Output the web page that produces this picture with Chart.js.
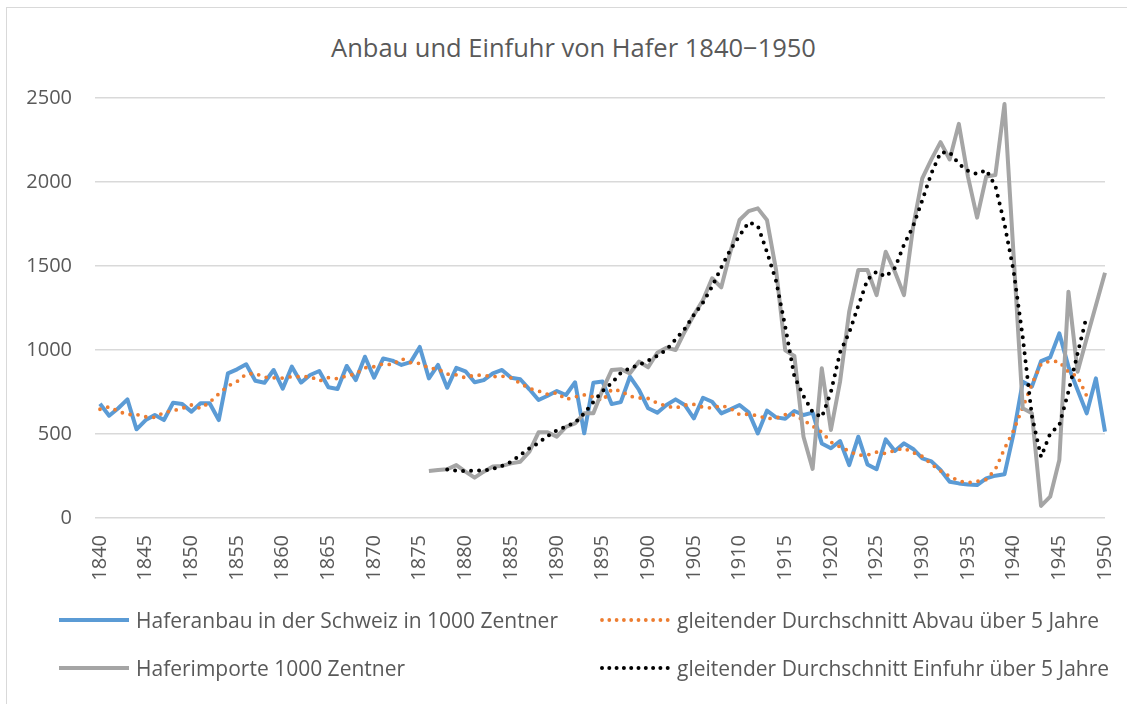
<!DOCTYPE html>
<html lang="de">
<head>
<meta charset="UTF-8">
<title>Anbau und Einfuhr von Hafer 1840−1950</title>
<script src="https://cdn.jsdelivr.net/npm/chart.js"></script>
<style>
  body { margin: 0; background: #fff; font-family: 'Open Sans', sans-serif; }
  #wrap { position: relative; width: 1127px; height: 704px; overflow: hidden; }
  #rahmen { position: absolute; left: 6px; top: 7px; width: 1200px; height: 800px; border: 1px solid #d9d9d9; }
  #box { position: absolute; left: 0; top: 0; width: 1127px; height: 704px; }
  #titel { position: absolute; left: 0; top: 32px; width: 1147px; text-align: center; color: #595959;
           font-size: 25.5px; line-height: 30px; white-space: nowrap; }
  .leg { position: absolute; display: flex; align-items: center; height: 30px; color: #595959; font-size: 21px; white-space: nowrap; }
  .leg svg { margin-right: 7px; }
</style>
</head>
<body>
<div id="wrap">
  <div id="rahmen"></div>
  <div id="titel"></div>
  <div id="box"><canvas id="chart"></canvas></div>
  <div id="legende"></div>
</div>
<script>
// Jahre 1840-1950 (Kategorien der x-Achse)
var jahre = [];
for (var j = 1840; j <= 1950; j++) jahre.push(j);

// Haferanbau in der Schweiz, 1000 Zentner, 1840-1950
var anbau = [
  680, 609, 653, 706, 528, 583, 613, 583, 686, 678,
  633, 683, 683, 583, 861, 885, 915, 817, 805, 881,
  770, 901, 806, 851, 875, 778, 768, 905, 821, 960,
  835, 950, 937, 911, 928, 1018, 831, 911, 775, 894,
  873, 808, 821, 861, 881, 835, 826, 766, 702, 728,
  756, 732, 808, 504, 805, 813, 678, 690, 841, 762,
  653, 627, 673, 706, 673, 593, 716, 692, 623, 647,
  673, 629, 504, 639, 599, 591, 637, 613, 627, 444,
  415, 458, 315, 484, 319, 290, 468, 399, 444, 411,
  355, 337, 286, 216, 206, 200, 196, 236, 252, 260,
  504, 811, 782, 934, 956, 1099, 901, 762, 623, 831,
  514
];

// Haferimporte, 1000 Zentner, erst ab 1876
var importStart = 1876;
var importe = [
  280, 286, 290, 315,
  276, 240, 276, 306, 310, 325, 335, 395, 510, 510,
  484, 543, 563, 623, 623, 762, 881, 886, 861, 931,
  897, 984, 1014, 1000, 1109, 1208, 1298, 1427, 1373, 1585,
  1774, 1827, 1843, 1774, 1476, 998, 964, 484, 292, 891,
  524, 811, 1228, 1476, 1476, 1327, 1585, 1466, 1327, 1734,
  2022, 2135, 2237, 2134, 2346, 2032, 1788, 2032, 2042, 2464,
  1560, 653, 623, 72, 127, 345, 1347, 871, 1070, 1265,
  1460
];

var yTicks = [0, 500, 1000, 1500, 2000, 2500];

var titel = 'Anbau und Einfuhr von Hafer 1840\u22121950';
var namen = [
  'Haferanbau in der Schweiz in 1000 Zentner',
  'gleitender Durchschnitt Abvau über 5 Jahre',
  'Haferimporte 1000 Zentner',
  'gleitender Durchschnitt Einfuhr über 5 Jahre'
];

var importReihe = jahre.map(function (y) {
  var i = y - importStart;
  return i >= 0 && i < importe.length ? importe[i] : null;
});

// gleitender Durchschnitt über 5 Jahre (zentriert), wie in der Tabelle
// vor 1840 gibt es im Diagramm keine Werte, dort nur die vorhandenen Jahre
function gleitend(werte) {
  return werte.map(function (v, i) {
    if (v == null || i + 2 >= werte.length) return null;
    var s = 0, n = 0;
    for (var k = i - 2; k <= i + 2; k++) {
      if (k < 0) continue;
      if (werte[k] == null) return null;
      s += werte[k]; n++;
    }
    return s / n;
  });
}

var textFarbe = '#595959';
var schrift = "'Open Sans', sans-serif";

var datasets = [
  { label: namen[0], data: anbau, borderColor: '#5B9BD5', borderWidth: 4, order: 3 },
  { label: namen[1], data: gleitend(anbau), borderColor: '#ED7D31', borderWidth: 3.8,
    borderDash: [0, 8], borderCapStyle: 'round', order: 2 },
  { label: namen[2], data: importReihe, borderColor: '#A5A5A5', borderWidth: 4, order: 1 },
  { label: namen[3], data: gleitend(importReihe), borderColor: '#000000', borderWidth: 4,
    borderDash: [0, 8], borderCapStyle: 'round', order: 0 }
];
datasets.forEach(function (d) {
  d.pointRadius = 0;
  d.fill = false;
  d.tension = 0;
  d.borderJoinStyle = 'round';
});

// Titel als Text über dem Diagramm (im Original etwas rechts der Mitte)
document.getElementById('titel').textContent = titel;

var ctx = document.getElementById('chart').getContext('2d');
var chart = new Chart(ctx, {
  type: 'line',
  data: { labels: jahre, datasets: datasets },
  options: {
    responsive: true,
    maintainAspectRatio: false,
    animation: false,
    layout: { padding: { left: 27, right: 22, top: 98, bottom: 106 } },
    plugins: {
      legend: { display: false },
      tooltip: { enabled: false },
      title: { display: false }
    },
    scales: {
      x: {
        type: 'category',
        offset: false,
        grid: { display: false, drawTicks: false },
        border: { display: false },
        ticks: {
          autoSkip: false,
          minRotation: 90,
          maxRotation: 90,
          padding: 17,
          color: textFarbe,
          font: { family: schrift, size: 20 },
          callback: function (v, i) { return jahre[i] % 5 === 0 ? String(jahre[i]) : null; }
        },
        afterFit: function (s) { s.height = 80; s.paddingLeft = 0; s.paddingRight = 0; }
      },
      y: {
        min: 0,
        max: 2500,
        grid: { color: '#d9d9d9', lineWidth: 1.5, drawTicks: true, tickLength: 5 },
        border: { display: false },
        afterBuildTicks: function (s) { s.ticks = yTicks.map(function (v) { return { value: v }; }); },
        ticks: {
          padding: 23,
          color: textFarbe,
          font: { family: schrift, size: 20 },
          callback: function (v) { return String(v); }
        },
        afterFit: function (s) { s.width = 73; s.paddingTop = 0; s.paddingBottom = 0; }
      }
    }
  }
});

// Legende in zwei Spalten wie im Original
var legPos = [[59, 620], [600, 620], [59, 668], [600, 668]];
var legende = document.getElementById('legende');
datasets.forEach(function (d, i) {
  var el = document.createElement('div');
  el.className = 'leg';
  el.style.left = legPos[i][0] + 'px';
  el.style.top = (legPos[i][1] - 15) + 'px';
  var strich = d.borderDash
    ? '<line x1="2" y1="5" x2="68" y2="5" stroke="' + d.borderColor + '" stroke-width="' + d.borderWidth +
      '" stroke-linecap="round" stroke-dasharray="0 7.3"/>'
    : '<line x1="0" y1="5" x2="70" y2="5" stroke="' + d.borderColor + '" stroke-width="4"/>';
  el.innerHTML = '<svg width="70" height="10">' + strich + '</svg><span>' + d.label + '</span>';
  legende.appendChild(el);
});
</script>
</body>
</html>
